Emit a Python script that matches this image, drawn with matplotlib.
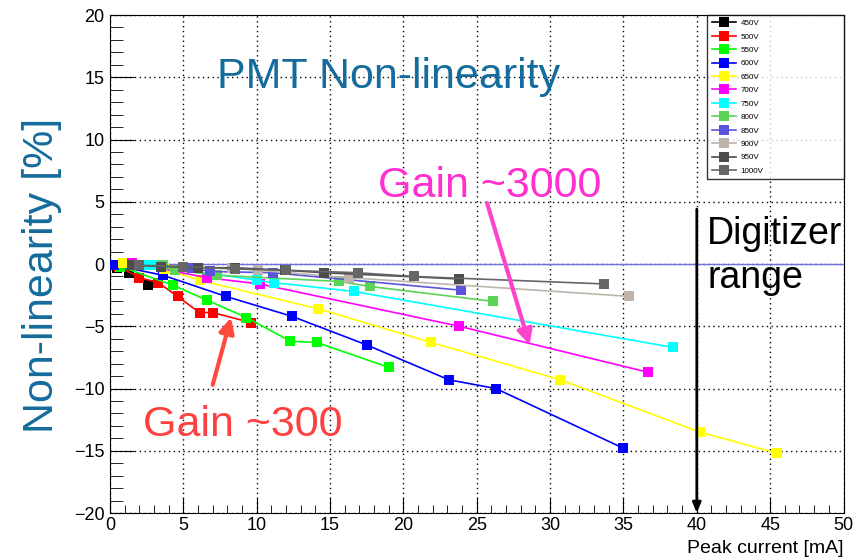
import matplotlib
matplotlib.use("Agg")
import matplotlib.pyplot as plt

plt.rcParams['font.family'] = ['Liberation Sans', 'DejaVu Sans']

# high voltage settings and (peak current [mA], non-linearity [%]) per setting
voltages = ["450V", "500V", "550V", "600V", "650V", "700V",
            "750V", "800V", "850V", "900V", "950V", "1000V"]
colors = ["#000000", "#ff0000", "#00ff00", "#0000ff", "#ffff00", "#ff00ff",
          "#00ffff", "#59d454", "#5954d9", "#bdb5ac", "#4c4c4c", "#666666"]

cur_450 = [0.5, 1.3, 2.6]
nl_450 = [-0.3, -0.7, -1.7]
cur_500 = [0.6, 2.0, 3.3, 4.6, 6.1, 7.0, 9.6]
nl_500 = [-0.2, -1.1, -1.5, -2.6, -3.9, -3.9, -4.7]
cur_550 = [0.7, 4.3, 6.6, 9.3, 12.3, 14.1, 19.0]
nl_550 = [-0.2, -1.7, -2.9, -4.3, -6.2, -6.3, -8.3]
cur_600 = [0.3, 3.6, 7.9, 12.4, 17.5, 23.1, 26.3, 35.0]
nl_600 = [-0.1, -0.9, -2.6, -4.2, -6.5, -9.3, -10.0, -14.8]
cur_650 = [0.9, 3.7, 6.1, 14.2, 21.9, 30.7, 40.2, 45.5]
nl_650 = [0.1, -0.4, -1.3, -3.6, -6.3, -9.3, -13.5, -15.2]
cur_700 = [1.5, 6.6, 10.2, 23.8, 36.7]
nl_700 = [0.1, -1.1, -1.6, -5.0, -8.7]
cur_750 = [2.6, 3.0, 10.0, 11.2, 16.6, 38.4]
nl_750 = [-0.1, -0.1, -1.3, -1.5, -2.2, -6.7]
cur_800 = [3.6, 4.4, 7.3, 15.6, 17.7, 26.1]
nl_800 = [-0.1, -0.5, -0.9, -1.4, -1.8, -3.0]
cur_850 = [5.6, 6.8, 11.1, 23.9]
nl_850 = [-0.3, -0.6, -0.7, -2.1]
cur_900 = [8.3, 10.1, 16.3, 35.4]
nl_900 = [-0.3, -0.5, -1.1, -2.6]
cur_950 = [1.5, 3.5, 6.0, 8.5, 11.9, 14.6, 23.8]
nl_950 = [-0.1, -0.2, -0.3, -0.3, -0.5, -0.7, -1.2]
cur_1000 = [2.0, 5.0, 8.5, 12.0, 16.9, 20.7, 33.7]
nl_1000 = [-0.1, -0.2, -0.4, -0.5, -0.7, -1.0, -1.6]

currents = [cur_450, cur_500, cur_550, cur_600, cur_650, cur_700,
            cur_750, cur_800, cur_850, cur_900, cur_950, cur_1000]
nonlin = [nl_450, nl_500, nl_550, nl_600, nl_650, nl_700,
          nl_750, nl_800, nl_850, nl_900, nl_950, nl_1000]

blue_txt = "#146c9c"

fig = plt.figure(figsize=(8.67, 5.58), dpi=100)
ax = fig.add_axes([0.1269, 0.0806, 0.846, 0.8925])

ax.axhline(0, color="#7070e0", lw=1.0, zorder=1)
for v, c, x, y in zip(voltages, colors, currents, nonlin):
    ax.plot(x, y, "-s", color=c, lw=1.2, ms=7.5, mew=0, label=v, zorder=3)

ax.set_xlim(0, 50)
ax.set_ylim(-20, 20)
ax.set_xticks(range(0, 51, 5))
ax.set_yticks(range(-20, 21, 5))
ax.set_xticks(range(0, 51, 1), minor=True)
ax.set_yticks(range(-20, 21, 1), minor=True)
ax.tick_params(which="both", direction="in", labelsize=13)
ax.tick_params(axis="y", which="major", length=17, pad=4)
ax.tick_params(axis="y", which="minor", length=9)
ax.tick_params(axis="x", which="major", length=11, pad=3)
ax.tick_params(axis="x", which="minor", length=6)
ax.grid(True, which="major", color="black", ls=(0, (1, 2.5)), lw=1.0, zorder=0)
ax.set_axisbelow(True)

ax.set_ylabel("Non-linearity [%]", fontsize=31, color=blue_txt)
ax.yaxis.set_label_coords(-0.065, 0.478)
ax.set_xlabel("Peak current [mA]", fontsize=14, ha="right")
ax.xaxis.set_label_coords(1.0, -0.055)

ax.text(7.3, 15.0, "PMT Non-linearity", fontsize=31, color=blue_txt,
        ha="left", va="center")
ax.text(18.3, 6.3, "Gain ~3000", fontsize=31, color="#ff2fd0",
        ha="left", va="center")
ax.text(2.25, -12.9, "Gain ~300", fontsize=31, color="#ff4040",
        ha="left", va="center")
ax.text(40.7, 2.4, "Digitizer", fontsize=27, ha="left", va="center")
ax.text(40.7, -1.1, "range", fontsize=27, ha="left", va="center")

ax.annotate("", xy=(28.6, -6.5), xytext=(25.7, 4.9),
            arrowprops=dict(arrowstyle="-|>,head_length=0.9,head_width=0.45",
                            color="#ff44cc", lw=3, shrinkA=0, shrinkB=0))
ax.annotate("", xy=(8.25, -4.3), xytext=(7.0, -9.7),
            arrowprops=dict(arrowstyle="-|>,head_length=0.9,head_width=0.45",
                            color="#ff4b3e", lw=3, shrinkA=0, shrinkB=0))
ax.annotate("", xy=(40, -20), xytext=(40, 4.4),
            arrowprops=dict(arrowstyle="-|>,head_length=0.6,head_width=0.25",
                            color="black", lw=2, shrinkA=0, shrinkB=0))

leg = ax.legend(loc="upper left", bbox_to_anchor=(0.814, 0, 0.186, 1.0),
                mode="expand", borderaxespad=0, fontsize=5.8, frameon=True,
                fancybox=False, edgecolor="black", handlelength=3.0,
                handletextpad=0.6, labelspacing=0.72, borderpad=0.55,
                markerscale=1.0)
leg.get_frame().set_linewidth(1.0)
leg.set_zorder(5)

fig.savefig("out.png", dpi=100)
